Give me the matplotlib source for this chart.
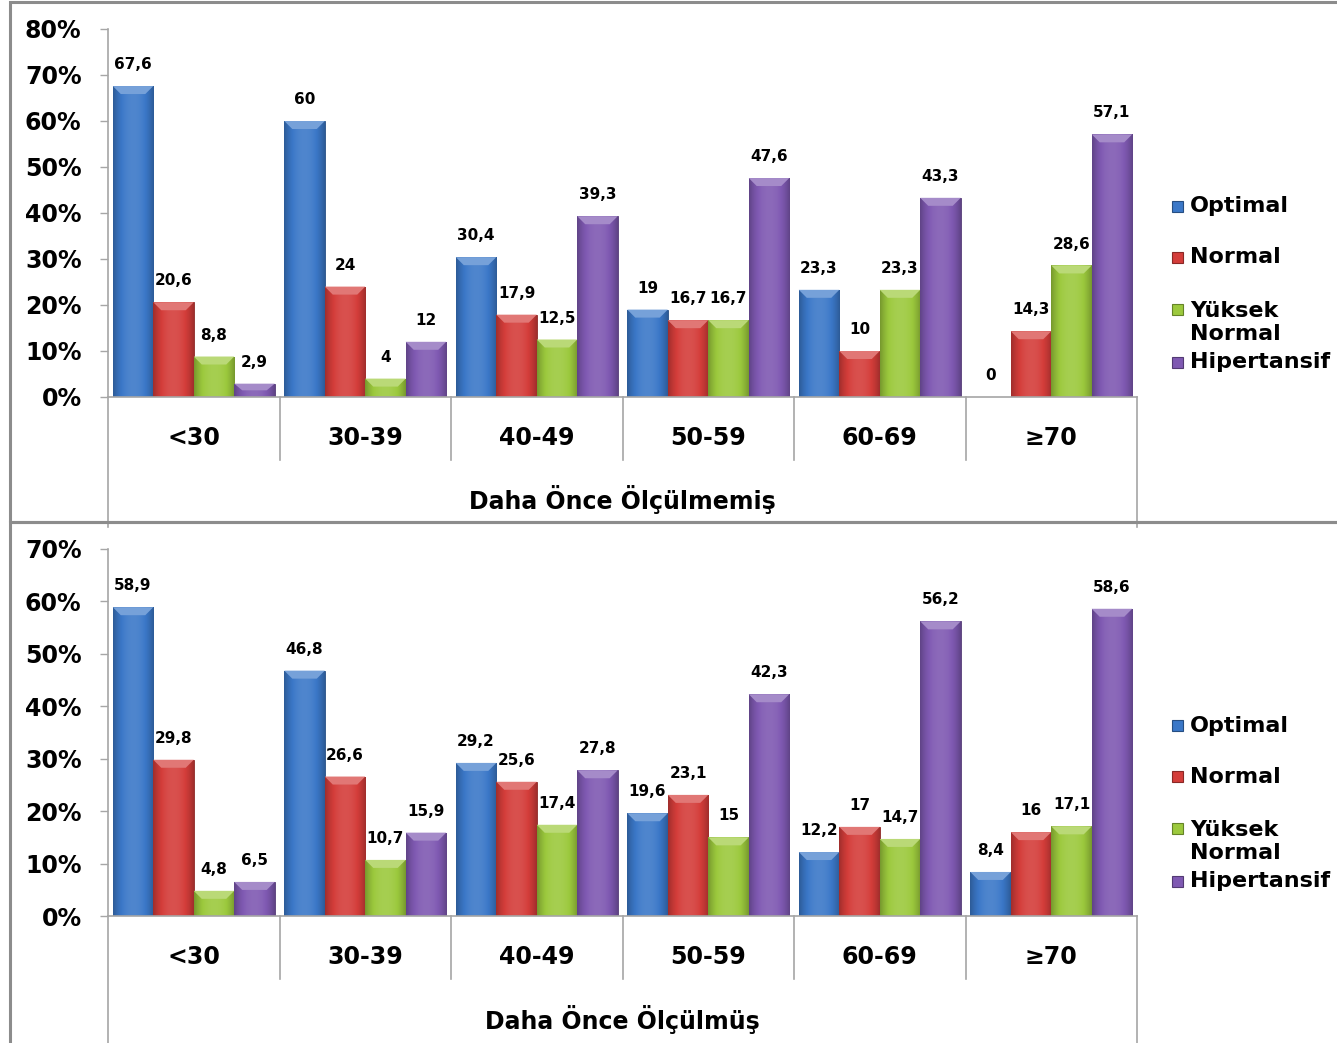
import numpy as np
import matplotlib.pyplot as plt
from matplotlib.patches import Rectangle, Polygon
from matplotlib.colors import to_rgb

plt.rcParams['font.family'] = ['DejaVu Sans']
plt.rcParams['font.weight'] = 'bold'

# ---------------- data ----------------
age_groups = ["<30", "30-39", "40-49", "50-59", "60-69", "≥70"]
series_names = ["Optimal", "Normal", "Yüksek\nNormal", "Hipertansif"]
series_colors = ["#3b78c8", "#d43d3a", "#9cc93d", "#7f59b2"]

# Daha Önce Ölçülmemiş
top_optimal = [67.6, 60, 30.4, 19, 23.3, 0]
top_normal = [20.6, 24, 17.9, 16.7, 10, 14.3]
top_yuksek = [8.8, 4, 12.5, 16.7, 23.3, 28.6]
top_hiper = [2.9, 12, 39.3, 47.6, 43.3, 57.1]

# Daha Önce Ölçülmüş
bot_optimal = [58.9, 46.8, 29.2, 19.6, 12.2, 8.4]
bot_normal = [29.8, 26.6, 25.6, 23.1, 17, 16]
bot_yuksek = [4.8, 10.7, 17.4, 15, 14.7, 17.1]
bot_hiper = [6.5, 15.9, 27.8, 42.3, 56.2, 58.6]

W, H = 1337, 1043
fig = plt.figure(figsize=(W / 100, H / 100), dpi=100)

GRAY = "#8c8c8c"
AXGRAY = "#a6a6a6"

# panel frames
fig.patches.append(Rectangle((10 / W, 1 - 522 / H), 1.2, 520 / H, transform=fig.transFigure,
                             fill=False, ec=GRAY, lw=2.2))
fig.patches.append(Rectangle((10 / W, -0.01), 1.2, 1 - 522 / H + 0.01, transform=fig.transFigure,
                             fill=False, ec=GRAY, lw=2.2))


def shade(color, f):
    c = np.array(to_rgb(color))
    if f >= 1:
        return c + (1 - c) * (f - 1)
    return c * f


def draw_panel(ax, series, ymax, title):
    n = len(age_groups)
    x = np.arange(n)
    bw = 0.236
    ax.set_xlim(-0.5, n - 0.5)
    ax.set_ylim(0, ymax)
    fig.canvas.draw()
    bb = ax.get_window_extent()
    dx = 8 * (n / bb.width)
    dy = 8 * (ymax / bb.height)

    prof = np.linspace(0, 1, 60)
    prof = 0.76 + 0.34 * (1 - np.abs(2 * prof - 1) ** 2.2)

    for i, (vals, col) in enumerate(zip(series, series_colors)):
        pos = x + (i - 1.5) * bw
        bars = ax.bar(pos, vals, width=bw, color=col, edgecolor=shade(col, 0.65), lw=0.6, zorder=2)
        for rect, v in zip(bars, vals):
            x0, w, h = rect.get_x(), rect.get_width(), rect.get_height()
            if h > 0:
                img = np.array([[shade(col, f) for f in prof]])
                im = ax.imshow(img, extent=(x0, x0 + w, 0, h), aspect='auto', zorder=2.5,
                               interpolation='bilinear')
                im.set_clip_path(rect)
                bh = min(dy, h * 0.5)
                cap = Polygon([(x0, h), (x0 + w, h), (x0 + w - dx, h - bh), (x0 + dx, h - bh)],
                              closed=True, fc=shade(col, 1.3), ec='none', zorder=3)
                ax.add_patch(cap)
            ax.annotate(f"{v:g}".replace('.', ','), (rect.get_x() + w / 2, h),
                        xytext=(0, 10), textcoords='offset points', ha='center', va='bottom',
                        fontsize=11, fontweight='bold', zorder=4)
    ax.set_xlim(-0.5, n - 0.5)
    ax.set_ylim(0, ymax)

    ax.set_yticks(np.arange(0, ymax + 1, 10))
    ax.set_yticklabels([f"{int(t)}%" for t in np.arange(0, ymax + 1, 10)])
    ax.tick_params(axis='y', length=6, width=1, color=AXGRAY, pad=13, labelsize=17)
    ax.set_xticks(x)
    ax.set_xticklabels(age_groups)
    ax.tick_params(axis='x', length=0, pad=21, labelsize=17)
    for s in ['top', 'right']:
        ax.spines[s].set_visible(False)
    for s in ['left', 'bottom']:
        ax.spines[s].set_color(AXGRAY)
        ax.spines[s].set_linewidth(1.2)

    # category separators
    hpx = bb.height
    short = -63 / hpx
    long_ = -130 / hpx
    trans = ax.get_xaxis_transform()
    for k in range(n + 1):
        y1 = long_ if k in (0, n) else short
        ax.plot([k - 0.5, k - 0.5], [0, y1], transform=trans, color=AXGRAY, lw=1.2,
                clip_on=False, zorder=1)

    ax.text(0.5, -103 / hpx, title, transform=ax.transAxes, ha='center', va='center',
            fontsize=17, fontweight='bold')

    # legend
    mw = 11 / bb.width
    mh = 11 / bb.height
    leg_y = [0.519, 0.380, 0.2024, 0.0951]
    mark_y = [0.519, 0.380, 0.239, 0.0951]
    for name, col, ly, my in zip(series_names, series_colors, leg_y, mark_y):
        ax.add_patch(Rectangle((1.0389 - mw / 2, my - mh / 2), mw, mh, transform=ax.transAxes,
                               fc=col, ec=shade(col, 0.65), lw=0.8, clip_on=False))
        ax.text(1.0515, ly, name, transform=ax.transAxes, ha='left', va='center',
                fontsize=16, fontweight='bold', linespacing=1.2)


ax1 = fig.add_axes([108 / W, 1 - 397 / H, 1029 / W, 368 / H])
draw_panel(ax1, [top_optimal, top_normal, top_yuksek, top_hiper], 80, "Daha Önce Ölçülmemiş")

ax2 = fig.add_axes([108 / W, 1 - 916 / H, 1029 / W, 367 / H])
draw_panel(ax2, [bot_optimal, bot_normal, bot_yuksek, bot_hiper], 70, "Daha Önce Ölçülmüş")

fig.savefig("out.png", dpi=100)
